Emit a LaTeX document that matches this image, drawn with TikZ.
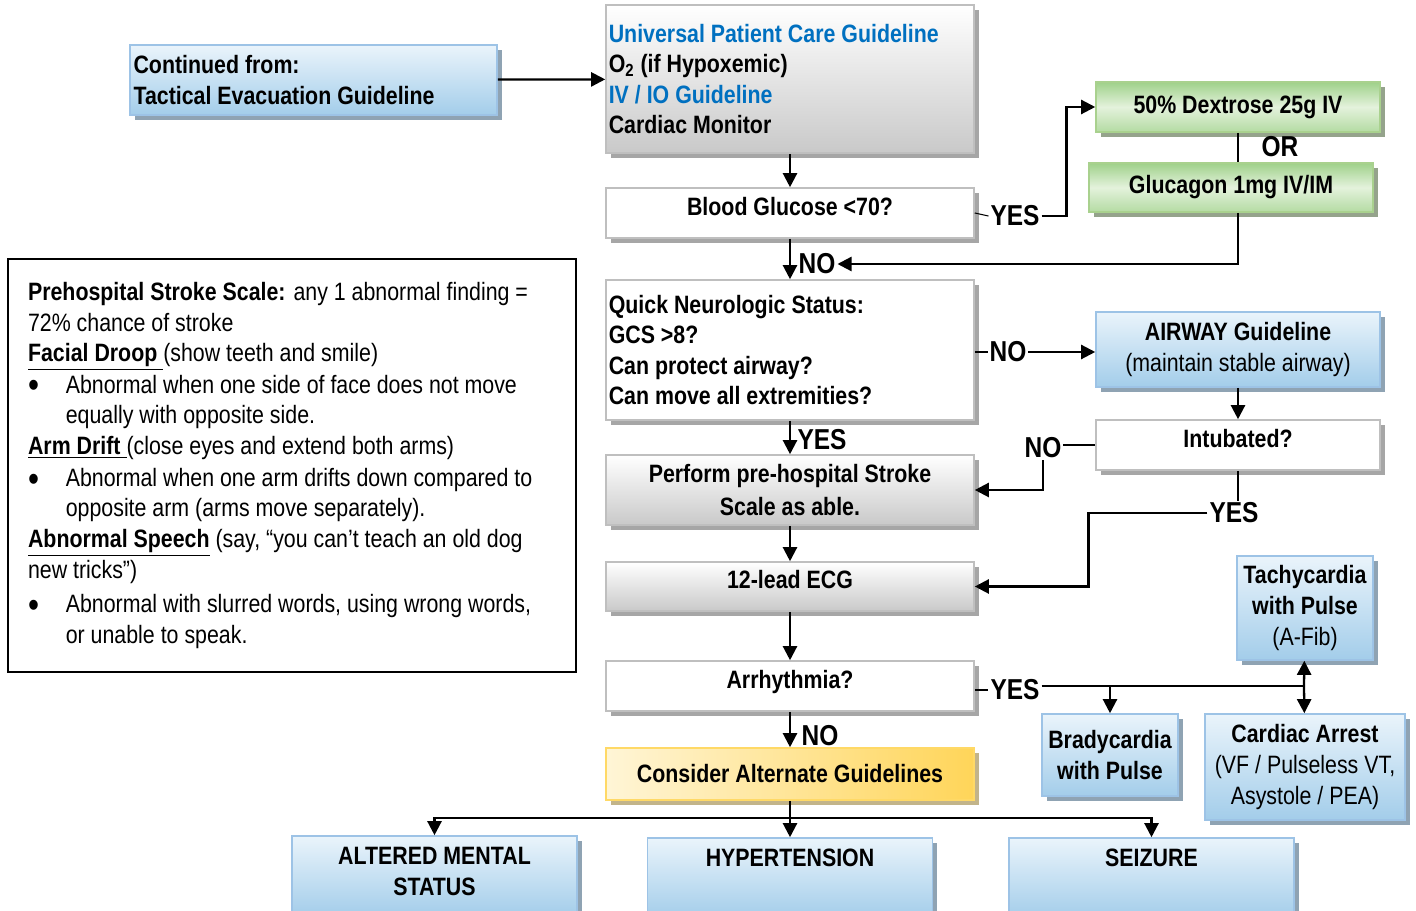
\documentclass[tikz,border=0pt]{standalone}
\usepackage{fontspec}
\setmainfont{Liberation Sans}[FakeStretch=0.85]
\usetikzlibrary{arrows.meta,shadows}
\definecolor{boxgray}{HTML}{BFBFBF}
\definecolor{graybot}{HTML}{C9C9C9}
\definecolor{shgray}{HTML}{A6A6A6}
\definecolor{blueline}{HTML}{9DC3E6}
\definecolor{bluelt}{HTML}{EAF4FB}
\definecolor{bluedk}{HTML}{A3CDEA}
\definecolor{shblue}{HTML}{8FA3B3}
\definecolor{greenline}{HTML}{A9D18E}
\definecolor{greendk}{HTML}{9FD18A}
\definecolor{greenlt}{HTML}{E4F2DC}
\definecolor{shgreen}{HTML}{95A38C}
\definecolor{yelline}{HTML}{FFD966}
\definecolor{yellt}{HTML}{FFF5D6}
\definecolor{yeldk}{HTML}{FFD559}
\definecolor{shyel}{HTML}{C2B48A}
\definecolor{linkblue}{HTML}{0070C0}
\newcommand{\bx}{\fontsize{14.3}{17.4}\selectfont\bfseries}
\newcommand{\lb}{\fontsize{16.4}{19}\selectfont\bfseries}
\newcommand{\rg}{\fontsize{14.3}{17.2}\selectfont}
\newcommand{\bul}{\makebox[21.5pt][l]{\raisebox{-2.5pt}{\fontsize{21}{17}\selectfont\textbullet}}}
\newcommand{\bi}{21.5pt}
\tikzset{
  wh/.style 2 args={minimum width=#1*0.02cm,minimum height=#2*0.02cm},
  box/.style={draw,line width=0.9pt,inner sep=1.5pt,font=\bx,align=center},
  whitebox/.style={box,draw=boxgray,fill=white,
    drop shadow={opacity=1,fill=shgray,shadow xshift=2.6pt,shadow yshift=-3pt}},
  graybox/.style={box,draw=boxgray,top color=white,bottom color=graybot,
    drop shadow={opacity=1,fill=shgray,shadow xshift=2.6pt,shadow yshift=-3pt}},
  bluebox/.style={box,draw=blueline,top color=bluelt,bottom color=bluedk,
    drop shadow={opacity=1,fill=shblue,shadow xshift=2.6pt,shadow yshift=-3pt}},
  greenbox/.style={box,draw=greenline,top color=greendk,bottom color=greendk!70!greenlt,middle color=greenlt,
    drop shadow={opacity=1,fill=shgreen,shadow xshift=2.6pt,shadow yshift=-3pt}},
  yelbox/.style={box,draw=yelline,left color=yellt,right color=yeldk,
    drop shadow={opacity=1,fill=shyel,shadow xshift=2.6pt,shadow yshift=-3pt}},
  qbox/.style={text height=10.4pt,text depth=8pt},
  lbl/.style={font=\lb,inner sep=1pt},
  ln/.style={line width=1.3pt},
  slim/.style={line width=0.6pt},
  arw/.style={line width=1.3pt,-{Triangle[length=8pt,width=8pt]}}
}
\begin{document}
\begin{tikzpicture}[x=0.02cm,y=-0.02cm]
    \useasboundingbox (0,0) rectangle (1416,911);
    \node [bluebox,wh={367}{70},text width=7.2cm,align=flush left](cont)at(313.5,80){Continued from:\\Tactical Evacuation Guideline};
    \node [graybox,wh={368}{148},text width=7.25cm,align=flush left](univ)at(790,79){\textcolor{linkblue}{Universal Patient Care Guideline}\\O\textsubscript{2} (if Hypoxemic)\\\textcolor{linkblue}{IV / IO Guideline}\\Cardiac Monitor};
    \node [whitebox,qbox,wh={368}{50}](bg)at(790,213){Blood Glucose <70?};
    \node [greenbox,wh={284}{50}](dex)at(1238,107){50\% Dextrose 25g IV};
    \node [greenbox,wh={284}{49}](glu)at(1231,187.5){Glucagon 1mg IV/IM};
    \node [whitebox,wh={368}{140},text width=7.25cm,align=flush left](qns)at(790,350){Quick Neurologic Status:\\GCS >8?\\Can protect airway?\\Can move all extremities?};
    \node [bluebox,wh={284}{75}](air)at(1238,349.5){AIRWAY Guideline\\\mdseries(maintain stable airway)};
    \node [whitebox,qbox,wh={284}{50}](intu)at(1238,445){Intubated?};
    \node [graybox,wh={368}{70}](pss)at(790,490){Perform pre-hospital Stroke\\[1.3pt]Scale as able.};
    \node [graybox,qbox,wh={368}{49}](ecg)at(790,586.5){12-lead ECG};
    \node [whitebox,qbox,wh={368}{50}](arr)at(790,686){Arrhythmia?};
    \node [bluebox,wh={136}{104}](tach)at(1305,608){Tachycardia\\with Pulse\\\mdseries(A-Fib)};
    \node [bluebox,wh={136}{82}](brad)at(1110,755){Bradycardia\\with Pulse};
    \node [bluebox,wh={200}{106}](card)at(1305,767){Cardiac Arrest\\\mdseries(VF / Pulseless VT,\\\mdseries Asystole / PEA)};
    \node [yelbox,wh={368}{52}](con)at(790,774){Consider Alternate Guidelines};
    \node [bluebox,wh={285}{80}](ams)at(434.5,876){ALTERED MENTAL\\STATUS\strut};
    \node [bluebox,wh={285}{80}](hyp)at(790,878){HYPERTENSION\\\strut};
    \node [bluebox,wh={285}{80}](sez)at(1151.5,878){SEIZURE\\\strut};
    \node [draw,line width=0.9pt,wh={568}{413},text width=10.56cm,align=flush left,font=\rg](scale)at(292,465.5){\textbf{Prehospital Stroke Scale:} any 1 abnormal finding =\\
72\% chance of stroke\\
\textbf{\underline{Facial Droop\ }}(show teeth and smile)\\[1pt]
\bul Abnormal when one side of face does not move\\
\hspace*{\bi}equally with opposite side.\\[0.5pt]
\textbf{\underline{Arm Drift\ }}(close eyes and extend both arms)\\[1pt]
\bul Abnormal when one arm drifts down compared to\\
\hspace*{\bi}opposite arm (arms move separately).\\[0.5pt]
\textbf{\underline{Abnormal Speech}} (say, “you can’t teach an old dog\\
new tricks”)\\[2.5pt]
\bul Abnormal with slurred words, using wrong words,\\
\hspace*{\bi}or unable to speak.};

    \node [lbl](yes1)at(1015,216){YES};
    \node [lbl](or1)at(1280,147){OR};
    \node [lbl](no1)at(817,264){NO};
    \node [lbl](no2)at(1008,352){NO};
    \node [lbl](yes2)at(822,440){YES};
    \node [lbl](no3)at(1043,448){NO};
    \node [lbl](yes3)at(1234,513){YES};
    \node [lbl](yes4)at(1015,690){YES};
    \node [lbl](no4)at(820,736){NO};
    \coordinate (j0)at(1110,686);
    \coordinate (j1)at(1304,686);
    \coordinate (j2)at(790,818);

    \draw [arw] (cont) -- (univ);
    \draw [arw] (univ) -- (bg);
    \draw [slim] (bg.east) -- (yes1.west);
    \draw [arw] (yes1.east) -- ++(25,0) |- (dex.west);
    \draw [slim] (dex.south) -- (dex.south |- glu.north);
    \draw [arw] (glu.south -| dex.south) |- (no1.east);
    \draw [arw] (bg) -- (qns);
    \draw [slim] (qns.east |- no2) -- (no2.west);
    \draw [arw] (no2.east) -- (air.west |- no2);
    \draw [arw] (air) -- (intu);
    \draw [slim] (intu.west) -- (no3.east |- intu.west);
    \draw [arw] (no3.south) |- (pss.east);
    \draw [slim] (intu.south) -- (intu.south |- yes3.north);
    \draw [arw] (yes3.west) -- ++(-119,0) |- (ecg.east);
    \draw [arw] (qns) -- (pss);
    \draw [arw] (pss) -- (ecg);
    \draw [arw] (ecg) -- (arr);
    \draw [slim] (arr.east |- yes4) -- (yes4.west);
    \draw [ln] (yes4.east |- j1) -- (j1);
    \draw [arw] (j0) -- (brad);
    \draw [arw] (j1) -- (tach);
    \draw [arw] (j1) -- (card);
    \draw [arw] (arr) -- (con);
    \draw [arw] (con) -- (hyp);
    \draw [arw] (j2) -| (ams.north);
    \draw [arw] (j2) -| (sez.north);
    \end{tikzpicture}
\end{document}
